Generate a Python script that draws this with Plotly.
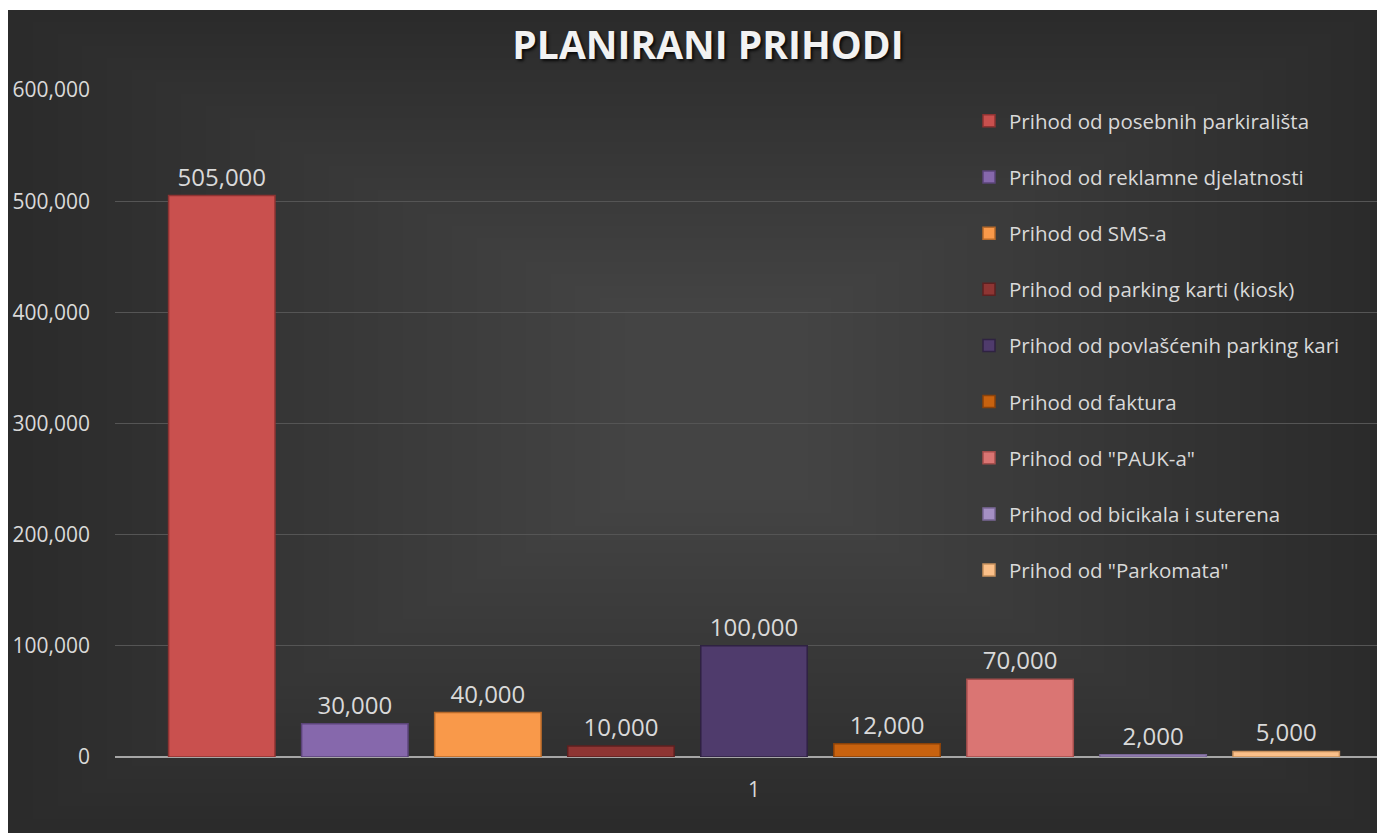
import plotly.graph_objects as go

# ---- data ----
categories = ["1"]
series_names = [
    "Prihod od posebnih parkirališta",
    "Prihod od reklamne djelatnosti",
    "Prihod od SMS-a",
    "Prihod od parking karti (kiosk)",
    "Prihod od povlašćenih parking kari",
    "Prihod od faktura",
    "Prihod od \"PAUK-a\"",
    "Prihod od bicikala i suterena",
    "Prihod od \"Parkomata\"",
]
series_values = [505000, 30000, 40000, 10000, 100000, 12000, 70000, 2000, 5000]
y_ticks = [0, 100000, 200000, 300000, 400000, 500000, 600000]

colors = ["#C9504E", "#8668AC", "#F9994A", "#8E3533", "#4F3B6C",
          "#C8620F", "#DA7573", "#A590C4", "#FBC08A"]
edge_colors = ["#8E3332", "#5B4479", "#B86A2A", "#5E2020", "#2F2242",
               "#8A420A", "#A54E4C", "#7A6797", "#C8915E"]

W, H = 1377, 833
L, R, T, B = 115, 0, 90, 833 - 757
pw, ph = W - L - R, H - T - B


def px_x(px):
    return (px - L) / pw


def px_y(py):
    return (H - B - py) / ph


fig = go.Figure()
for name, val, c, ec in zip(series_names, series_values, colors, edge_colors):
    fig.add_trace(go.Bar(
        x=categories, y=[val], name=name,
        marker=dict(color=c, line=dict(color=ec, width=1.5)),
        texttemplate="%{y:,}", textposition="outside",
        textfont=dict(color="#D9D9D9", size=24, family="Open Sans"),
        cliponaxis=False, legendgroup=name,
    ))

# background: dark radial-ish gradient + white frame (top / left)
shapes = []
n = 26
cx, cy = 720, 400
for i in range(n):
    f = i / n
    x0 = 8 + (cx - 8) * f * 0.9
    x1 = W - (W - cx) * f * 0.9
    y0 = 10 + (cy - 10) * f * 0.8
    y1 = H - (H - cy) * f * 0.8
    shapes.append(dict(type="rect", xref="paper", yref="paper",
                       x0=px_x(x0), x1=px_x(x1), y0=px_y(y0), y1=px_y(y1),
                       fillcolor="rgba(255,255,255,0.0075)", line=dict(width=0),
                       layer="below"))
shapes.append(dict(type="rect", xref="paper", yref="paper",
                   x0=px_x(-2), x1=px_x(8), y0=px_y(H + 2), y1=px_y(-2),
                   fillcolor="#FFFFFF", line=dict(width=0), layer="below"))
shapes.append(dict(type="rect", xref="paper", yref="paper",
                   x0=px_x(-2), x1=px_x(W + 2), y0=px_y(10), y1=px_y(-2),
                   fillcolor="#FFFFFF", line=dict(width=0), layer="below"))

fig.update_layout(
    width=W, height=H,
    margin=dict(l=L, r=R, t=T, b=B, autoexpand=False),
    paper_bgcolor="#2A2A2A",
    plot_bgcolor="rgba(0,0,0,0)",
    shapes=shapes,
    barmode="group",
    bargap=0.063,
    bargroupgap=0.2,
    font=dict(family="Open Sans", color="#D9D9D9", size=21),
    title=dict(
        text="<b>PLANIRANI PRIHODI</b>",
        x=px_x(708), xref="paper", xanchor="center",
        y=1 - 45 / H, yref="container", yanchor="middle",
        font=dict(family="Open Sans", size=39, color="#F2F2F2",
                  shadow="2px 2px 3px rgba(0,0,0,0.8)"),
    ),
    xaxis=dict(type="category", range=[-0.5, 0.4875], showgrid=False,
               showline=False, ticks="", ticklabelstandoff=18,
               tickfont=dict(color="#D9D9D9", size=21)),
    yaxis=dict(range=[0, 600000], tickvals=y_ticks, tickformat=",",
               showgrid=True, gridcolor="#555555", gridwidth=1,
               zeroline=True, zerolinecolor="#A6A6A6", zerolinewidth=2,
               showline=False, ticks="", ticklabelstandoff=24,
               tickfont=dict(color="#D9D9D9", size=21)),
    legend=dict(x=px_x(969), y=px_y(101), xanchor="left", yanchor="top",
                bgcolor="rgba(0,0,0,0)", tracegroupgap=26.5,
                font=dict(color="#D9D9D9", size=20.5, family="Open Sans"),
                itemwidth=30),
    showlegend=True,
)

fig.write_html(
    "out.html",
    config={"displayModeBar": False},
    post_script=(
        "document.body.style.margin='0';"
        "document.documentElement.style.overflow='hidden';"
        "document.body.style.overflow='hidden';"
        "document.documentElement.style.background='#2A2A2A';"
        "document.body.style.background='#2A2A2A';"
    ),
)
